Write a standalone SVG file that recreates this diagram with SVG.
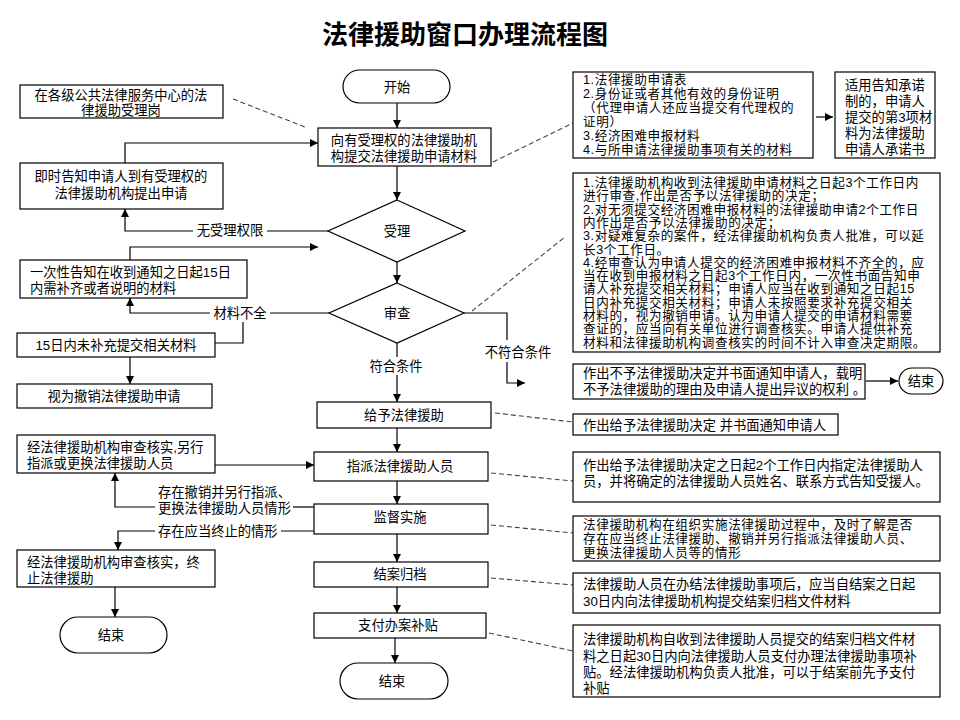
<svg xmlns="http://www.w3.org/2000/svg" width="960" height="720" viewBox="0 0 960 720">
<style>
.t{font-family:'Liberation Sans','Noto Sans CJK SC',sans-serif;font-size:13.3px;fill:#000}
.s{font-size:12.6px;letter-spacing:0.6px}
.c{text-anchor:middle}
.title{font-family:'Liberation Sans','Noto Sans CJK SC',sans-serif;font-size:26px;font-weight:bold;text-anchor:middle;fill:#000}
.box{fill:#fff;stroke:#000;stroke-width:1.2}
.ln{fill:none;stroke:#000;stroke-width:1.2}
.ar{fill:none;stroke:#000;stroke-width:1.2;marker-end:url(#ah)}
.ds{fill:none;stroke:#444;stroke-width:1.1;stroke-dasharray:5,3}
</style>
<defs>
<marker id="ah" viewBox="0 0 10 10" refX="10" refY="5" markerWidth="9" markerHeight="8" orient="auto" markerUnits="userSpaceOnUse">
<path d="M0,0 L10,5 L0,10 z" fill="#000"/>
</marker>
</defs>
<rect width="960" height="720" fill="#fff"/>
<text class="title" x="465" y="44">法律援助窗口办理流程图</text>

<g id="connectors">
<line class="ar" x1="397" y1="103" x2="397" y2="128"/>
<line class="ar" x1="397" y1="166" x2="397" y2="200"/>
<line class="ar" x1="397" y1="262" x2="397" y2="283"/>
<line class="ln" x1="397" y1="343" x2="397" y2="357"/>
<line class="ar" x1="397" y1="375" x2="397" y2="402"/>
<line class="ar" x1="397" y1="428" x2="397" y2="452"/>
<line class="ar" x1="397" y1="481" x2="397" y2="504"/>
<line class="ar" x1="397" y1="534" x2="397" y2="562"/>
<line class="ar" x1="397" y1="587" x2="397" y2="613"/>
<line class="ar" x1="395" y1="638" x2="395" y2="663"/>
<polyline class="ar" points="125,163 125,143 318,143"/>
<line class="ln" x1="328" y1="231" x2="267" y2="231"/>
<polyline class="ar" points="193,231 125,231 125,209"/>
<polyline class="ar" points="130,260 130,247 318,247"/>
<line class="ln" x1="329" y1="313" x2="270" y2="313"/>
<polyline class="ar" points="210,313 130,313 130,298"/>
<polyline class="ln" points="243,322 243,343 215,343"/>
<line class="ar" x1="130" y1="357" x2="130" y2="384"/>
<line class="ar" x1="215" y1="465" x2="314" y2="465"/>
<line class="ln" x1="314" y1="507" x2="293" y2="507"/>
<polyline class="ar" points="155,507 115,507 115,473"/>
<line class="ln" x1="314" y1="531" x2="281" y2="531"/>
<polyline class="ar" points="155,531 118,531 118,550"/>
<line class="ar" x1="115" y1="587" x2="115" y2="617"/>
<polyline class="ln" points="464,313 507,313 507,340"/>
<polyline class="ar" points="507,362 507,383 525,383"/>
<line class="ar" x1="816" y1="117" x2="833" y2="117"/>
<line class="ar" x1="866" y1="381" x2="898" y2="381"/>
<line class="ds" x1="233" y1="99" x2="305" y2="127"/>
<line class="ds" x1="493" y1="162" x2="575" y2="122"/>
<line class="ds" x1="472" y1="311" x2="565" y2="237"/>
<line class="ds" x1="495" y1="413" x2="573" y2="422"/>
<line class="ds" x1="491" y1="473" x2="573" y2="481"/>
<line class="ds" x1="491" y1="525" x2="573" y2="533"/>
<line class="ds" x1="491" y1="578" x2="573" y2="585"/>
<line class="ds" x1="489" y1="633" x2="573" y2="651"/>
</g>

<g id="start">
<rect class="box" x="343" y="70" width="107" height="33" rx="16.5"/>
<text class="t c" x="397" y="92">开始</text>
</g>
<g id="submit">
<rect class="box" x="318" y="128" width="173" height="38"/>
<text class="t c" x="404" y="145">向有受理权的法律援助机</text>
<text class="t c" x="404" y="161">构提交法律援助申请材料</text>
</g>
<g id="accept">
<polygon class="box" points="397,200 465,231 397,262 328,231"/>
<text class="t c" x="397" y="236">受理</text>
</g>
<g id="review">
<polygon class="box" points="397,283 464,313 397,343 329,313"/>
<text class="t c" x="397" y="318">审查</text>
</g>
<g id="grant">
<rect class="box" x="317" y="402" width="174" height="26"/>
<text class="t c" x="404" y="420">给予法律援助</text>
</g>
<g id="assign">
<rect class="box" x="314" y="452" width="174" height="29"/>
<text class="t c" x="400" y="471">指派法律援助人员</text>
</g>
<g id="supervise">
<rect class="box" x="314" y="504" width="174" height="30"/>
<text class="t c" x="400" y="522">监督实施</text>
</g>
<g id="archive">
<rect class="box" x="314" y="562" width="174" height="25"/>
<text class="t c" x="400" y="579">结案归档</text>
</g>
<g id="pay">
<rect class="box" x="314" y="613" width="172" height="25"/>
<text class="t c" x="398" y="630">支付办案补贴</text>
</g>
<g id="end-main">
<rect class="box" x="340" y="663" width="108" height="36" rx="18"/>
<text class="t c" x="392" y="686">结束</text>
</g>

<g id="post">
<rect class="box" x="20" y="85" width="203" height="33"/>
<text class="t c" x="121" y="100">在各级公共法律服务中心的法</text>
<text class="t c" x="121" y="115">律援助受理岗</text>
</g>
<g id="inform">
<rect class="box" x="20" y="163" width="203" height="46"/>
<text class="t c" x="121" y="181">即时告知申请人到有受理权的</text>
<text class="t c" x="121" y="198">法律援助机构提出申请</text>
</g>
<g id="supplement">
<rect class="box" x="20" y="260" width="227" height="38"/>
<text class="t" x="30" y="277">一次性告知在收到通知之日起15日</text>
<text class="t" x="30" y="293">内需补齐或者说明的材料</text>
</g>
<g id="not-supplied">
<rect class="box" x="17" y="333" width="198" height="24"/>
<text class="t c" x="116" y="350">15日内未补充提交相关材料</text>
</g>
<g id="withdrawn">
<rect class="box" x="17" y="384" width="195" height="24"/>
<text class="t c" x="114" y="401">视为撤销法律援助申请</text>
</g>
<g id="reassign">
<rect class="box" x="17" y="435" width="198" height="38"/>
<text class="t" x="27" y="452">经法律援助机构审查核实,另行</text>
<text class="t" x="27" y="468">指派或更换法律援助人员</text>
</g>
<g id="terminate">
<rect class="box" x="17" y="550" width="198" height="37"/>
<text class="t" x="27" y="567">经法律援助机构审查核实，终</text>
<text class="t" x="27" y="583">止法律援助</text>
</g>
<g id="end-left">
<rect class="box" x="60" y="617" width="107" height="36" rx="18"/>
<text class="t c" x="111" y="640">结束</text>
</g>

<g id="labels">
<text class="t c" x="230" y="235">无受理权限</text>
<text class="t c" x="240" y="318">材料不全</text>
<text class="t c" x="518" y="357">不符合条件</text>
<text class="t c" x="396" y="371">符合条件</text>
<text class="t" x="158" y="497">存在撤销并另行指派、</text>
<text class="t" x="158" y="513">更换法律援助人员情形</text>
<text class="t" x="158" y="536">存在应当终止的情形</text>
</g>

<g id="materials">
<rect class="box" x="573" y="72" width="240" height="86"/>
<text class="t s" x="583" y="84">1.法律援助申请表</text>
<text class="t s" x="583" y="98">2.身份证或者其他有效的身份证明</text>
<text class="t s" x="583" y="112">（代理申请人还应当提交有代理权的</text>
<text class="t s" x="583" y="126">证明）</text>
<text class="t s" x="583" y="140">3.经济困难申报材料</text>
<text class="t s" x="583" y="154">4.与所申请法律援助事项有关的材料</text>
</g>
<g id="commitment">
<rect class="box" x="835" y="72" width="100" height="86"/>
<text class="t" x="845" y="90">适用告知承诺</text>
<text class="t" x="845" y="106">制的，申请人</text>
<text class="t" x="845" y="122">提交的第3项材</text>
<text class="t" x="845" y="138">料为法律援助</text>
<text class="t" x="845" y="154">申请人承诺书</text>
</g>
<g id="review-rules">
<rect class="box" x="573" y="173" width="367" height="179"/>
<text class="t s" x="583" y="187">1.法律援助机构收到法律援助申请材料之日起3个工作日内</text>
<text class="t s" x="583" y="200.3">进行审查,作出是否予以法律援助的决定；</text>
<text class="t s" x="583" y="213.6">2.对无须提交经济困难申报材料的法律援助申请2个工作日</text>
<text class="t s" x="583" y="226.9">内作出是否予以法律援助的决定；</text>
<text class="t s" x="583" y="240.2">3.对疑难复杂的案件，经法律援助机构负责人批准，可以延</text>
<text class="t s" x="583" y="253.5">长3个工作日。</text>
<text class="t s" x="583" y="266.8">4.经审查认为申请人提交的经济困难申报材料不齐全的，应</text>
<text class="t s" x="583" y="280.1">当在收到申报材料之日起3个工作日内，一次性书面告知申</text>
<text class="t s" x="583" y="293.4">请人补充提交相关材料；申请人应当在收到通知之日起15</text>
<text class="t s" x="583" y="306.7">日内补充提交相关材料；申请人未按照要求补充提交相关</text>
<text class="t s" x="583" y="320">材料的，视为撤销申请。认为申请人提交的申请材料需要</text>
<text class="t s" x="583" y="333.3">查证的，应当向有关单位进行调查核实。申请人提供补充</text>
<text class="t s" x="583" y="346.6">材料和法律援助机构调查核实的时间不计入审查决定期限。</text>
</g>
<g id="refuse">
<rect class="box" x="573" y="364" width="292" height="35"/>
<text class="t" x="583" y="378">作出不予法律援助决定并书面通知申请人，载明</text>
<text class="t" x="583" y="394">不予法律援助的理由及申请人提出异议的权利 。</text>
</g>
<g id="end-right">
<rect class="box" x="899" y="368" width="44" height="26" rx="13"/>
<text class="t c" x="921" y="386">结束</text>
</g>
<g id="grant-note">
<rect class="box" x="573" y="414" width="265" height="21"/>
<text class="t" x="583" y="430">作出给予法律援助决定 并书面通知申请人</text>
</g>
<g id="assign-note">
<rect class="box" x="573" y="452" width="367" height="50"/>
<text class="t" x="583" y="470">作出给予法律援助决定之日起2个工作日内指定法律援助人</text>
<text class="t" x="583" y="486">员，并将确定的法律援助人员姓名、联系方式告知受援人。</text>
</g>
<g id="supervise-note">
<rect class="box" x="573" y="516" width="367" height="45"/>
<text class="t s" x="583" y="529">法律援助机构在组织实施法律援助过程中，及时了解是否</text>
<text class="t s" x="583" y="543">存在应当终止法律援助、撤销并另行指派法律援助人员、</text>
<text class="t s" x="583" y="557">更换法律援助人员等的情形</text>
</g>
<g id="archive-note">
<rect class="box" x="573" y="573" width="367" height="40"/>
<text class="t" x="583" y="589">法律援助人员在办结法律援助事项后，应当自结案之日起</text>
<text class="t" x="583" y="606">30日内向法律援助机构提交结案归档文件材料</text>
</g>
<g id="pay-note">
<rect class="box" x="573" y="625" width="367" height="72"/>
<text class="t" x="583" y="644">法律援助机构自收到法律援助人员提交的结案归档文件材</text>
<text class="t" x="583" y="661">料之日起30日内向法律援助人员支付办理法律援助事项补</text>
<text class="t" x="583" y="677">贴。经法律援助机构负责人批准，可以于结案前先予支付</text>
<text class="t" x="583" y="693">补贴</text>
</g>
</svg>
